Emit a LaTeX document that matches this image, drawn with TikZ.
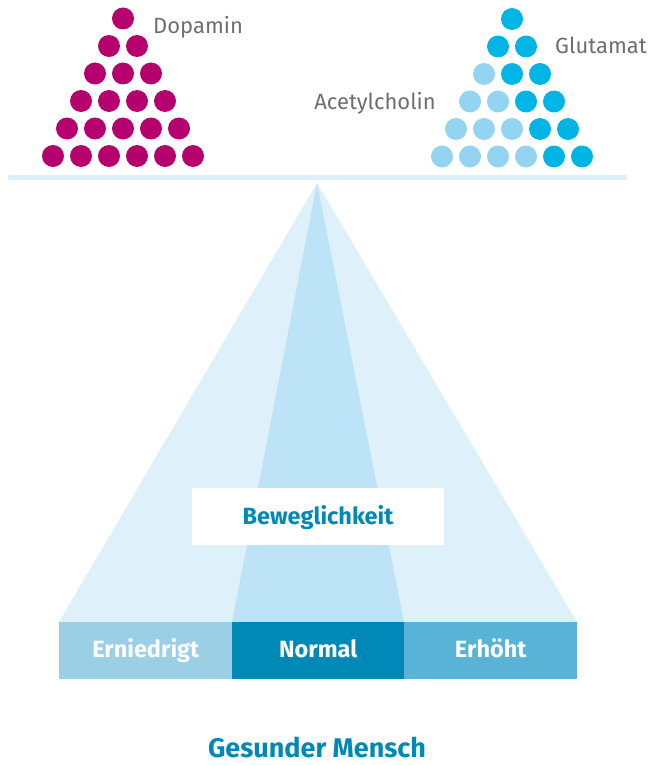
\documentclass[tikz,border=0pt]{standalone}
\usepackage{fontspec}
\setmainfont{Fira Sans}
\definecolor{magdot}{HTML}{B5006E}
\definecolor{cyandark}{HTML}{00B4E6}
\definecolor{cyanlight}{HTML}{93D4F0}
\definecolor{labelgray}{HTML}{6E6E6E}
\definecolor{linecol}{HTML}{DDEFFA}
\definecolor{outertri}{HTML}{DEF0FA}
\definecolor{innertri}{HTML}{BDE3F6}
\definecolor{barlow}{HTML}{9BCFE5}
\definecolor{barnorm}{HTML}{0089B7}
\definecolor{barhigh}{HTML}{58B3D6}
\definecolor{titleblue}{HTML}{0089B7}
\tikzset{
  lbl/.style={text=labelgray, font=\fontsize{22}{26}\selectfont, inner sep=0pt},
  bartext/.style={text=white, font=\bfseries\fontsize{23.5}{27}\selectfont, inner sep=0pt, anchor=base},
  barbox/.style={minimum width=172pt, minimum height=57pt, inner sep=0pt, anchor=north west, draw=none},
}
\begin{document}
\begin{tikzpicture}[x=1pt,y=-1pt]
\useasboundingbox (0,0) rectangle (654,765);
% horizontal line
\fill[linecol] (8,174.5) rectangle (627,179.5);
% triangles
\coordinate (apex) at (317,183);
\coordinate (bl) at (59,622);
\coordinate (br) at (577,622);
\coordinate (il) at (232,622);
\coordinate (ir) at (404,622);
\fill[outertri] (apex) -- (br) -- (bl) -- cycle;
\fill[innertri] (apex) -- (ir) -- (il) -- cycle;
% dopamine dots
\foreach \r in {0,...,5}{
  \foreach \c in {0,...,\r}{
    \fill[magdot] ({123 - 14*\r + 28*\c},{18.5 + 27.5*\r}) circle (11);
  }
}
% glutamate / acetylcholine dots
\foreach \r in {0,...,5}{
  \pgfmathtruncatemacro{\nlight}{\r<2 ? 0 : \r-1}
  \foreach \c in {0,...,\r}{
    \ifnum\c<\nlight
      \fill[cyanlight] ({512 - 14*\r + 28*\c},{19 + 27.5*\r}) circle (11);
    \else
      \fill[cyandark] ({512 - 14*\r + 28*\c},{19 + 27.5*\r}) circle (11);
    \fi
  }
}
% labels
\node[lbl, anchor=base west] (dop) at (153,34) {Dopamin};
\node[lbl, anchor=base west] (glu) at (555,53.5) {Glutamat};
\node[lbl, anchor=base east] (ach) at (436,110) {Acetylcholin};
% bars
\node[barbox, fill=barlow, minimum width=173pt] (low) at (59,622) {};
\node[barbox, fill=barnorm] (norm) at (232,622) {};
\node[barbox, fill=barhigh, minimum width=173pt] (high) at (404,622) {};
\node[bartext] (lowt) at ([yshift=-35pt]low.north) {Erniedrigt};
\node[bartext] (normt) at ([yshift=-35pt]norm.north) {Normal};
\node[bartext] (hight) at ([yshift=-35pt]high.north) {Erhöht};
% Beweglichkeit box
\node[fill=white, minimum width=252pt, minimum height=57pt, inner sep=0pt, anchor=north west] (bbox) at (192,488) {};
\node[text=titleblue, font=\bfseries\fontsize{23.5}{27}\selectfont, inner sep=0pt, anchor=base] (bwt) at (318,524) {Beweglichkeit};
% title
\node[text=titleblue, font=\bfseries\fontsize{27}{31}\selectfont, inner sep=0pt, anchor=base] (title) at (317,757) {Gesunder Mensch};
\end{tikzpicture}
\end{document}
